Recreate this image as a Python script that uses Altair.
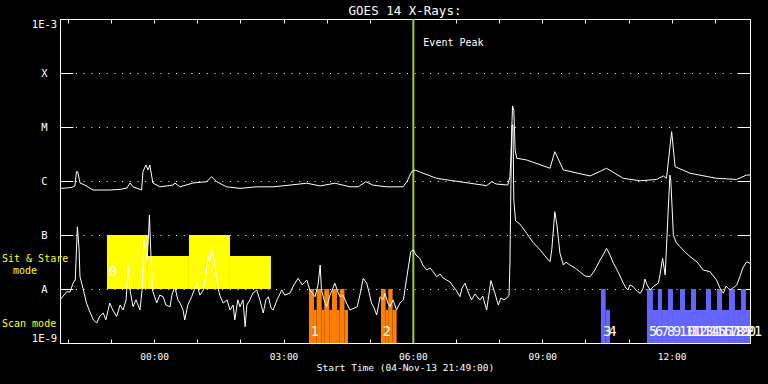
import altair as alt
import pandas as pd

MONO = "DejaVu Sans Mono"

# time axis: hours relative to 05-Nov-13 00:00 (start 04-Nov-13 21:49:00, 16 h span)
t_domain = [-2.1833, 13.8167]
hour_ticks = [-2, -1, 0, 1, 2, 3, 4, 5, 6, 7, 8, 9, 10, 11, 12, 13]
decades = [1e-9, 1e-8, 1e-7, 1e-6, 1e-5, 1e-4, 1e-3]

chart_title = ["GOES 14 X-Rays:"]

# GOES long channel (1-8 A), (hour, W/m2)
long_channel = [
    (-2.18, 7.3e-7), (-2.05, 7.4e-7), (-1.91, 7.6e-7), (-1.84, 8.1e-7), (-1.80, 1.49e-6),
    (-1.77, 1.47e-6), (-1.72, 9.2e-7), (-1.61, 8.4e-7), (-1.42, 6.8e-7), (-1.03, 6.8e-7),
    (-0.79, 7.0e-7), (-0.63, 7.4e-7), (-0.56, 9.2e-7), (-0.49, 7.8e-7), (-0.29, 6.8e-7),
    (-0.26, 1.49e-6), (-0.19, 1.98e-6), (-0.14, 1.60e-6), (-0.10, 1.98e-6), (-0.03, 9.2e-7),
    (0.13, 7.8e-7), (0.44, 8.4e-7), (0.48, 9.2e-7), (0.60, 7.8e-7), (0.90, 9.2e-7),
    (1.22, 9.7e-7), (1.33, 1.20e-6), (1.45, 9.7e-7), (1.68, 7.8e-7), (1.99, 7.3e-7),
    (2.38, 7.8e-7), (2.76, 7.8e-7), (3.15, 8.4e-7), (3.54, 9.1e-7), (3.85, 8.1e-7),
    (4.19, 9.1e-7), (4.54, 7.8e-7), (4.73, 7.8e-7), (4.91, 9.7e-7), (5.07, 8.4e-7),
    (5.39, 7.8e-7), (5.77, 7.8e-7), (5.86, 9.7e-7), (5.97, 1.49e-6), (6.05, 1.60e-6),
    (6.16, 1.47e-6), (6.55, 1.12e-6), (6.93, 1.01e-6), (7.32, 9.1e-7), (7.71, 8.2e-7),
    (7.83, 9.7e-7), (7.93, 8.8e-7), (8.20, 8.4e-7), (8.25, 1.20e-6), (8.27, 2.45e-6),
    (8.31, 2.45e-5), (8.34, 2.06e-5), (8.37, 3.75e-6), (8.41, 2.63e-6), (8.64, 2.45e-6),
    (9.18, 1.72e-6), (9.29, 3.49e-6), (9.49, 1.60e-6), (10.11, 1.24e-6), (10.49, 1.72e-6),
    (10.88, 1.12e-6), (11.27, 1.01e-6), (11.65, 1.07e-6), (11.81, 1.24e-6), (11.88, 1.12e-6),
    (12.00, 8.2e-6), (12.08, 1.84e-6), (12.43, 1.39e-6), (13.04, 1.12e-6), (13.51, 1.07e-6),
    (13.74, 1.29e-6), (13.82, 1.29e-6),
]

# GOES short channel (0.5-4 A), (hour, W/m2)
short_channel = [
    (-2.18, 6.3e-9), (-2.11, 7.4e-9), (-2.03, 8.9e-9), (-1.95, 8.8e-9), (-1.88, 1.28e-8),
    (-1.83, 1.47e-8), (-1.78, 1.42e-7), (-1.74, 5.3e-8), (-1.72, 1.69e-8), (-1.64, 9.6e-9),
    (-1.57, 5.5e-9), (-1.49, 3.75e-9), (-1.41, 2.67e-9), (-1.33, 2.35e-9), (-1.26, 3.16e-9),
    (-1.18, 3.59e-9), (-1.12, 2.67e-9), (-1.03, 5.5e-9), (-0.96, 4.08e-9), (-0.87, 3.1e-9),
    (-0.79, 5.05e-9), (-0.72, 4.08e-9), (-0.65, 6.3e-9), (-0.60, 2.78e-8), (-0.56, 9.6e-9),
    (-0.49, 4.7e-9), (-0.42, 6.3e-9), (-0.33, 4.08e-9), (-0.28, 9.6e-9), (-0.24, 8.1e-8),
    (-0.17, 3.45e-8), (-0.14, 6.5e-8), (-0.11, 2.35e-7), (-0.08, 5.3e-8), (-0.04, 9.6e-9),
    (0.06, 5.5e-9), (0.13, 7.7e-9), (0.21, 7.2e-9), (0.27, 5.05e-9), (0.37, 4.7e-9),
    (0.41, 7.7e-9), (0.48, 1.10e-8), (0.55, 6.3e-9), (0.60, 5.5e-9), (0.67, 4.08e-9),
    (0.71, 2.67e-9), (0.78, 5.05e-9), (0.87, 7.2e-9), (0.99, 1.28e-8), (1.06, 7.7e-9),
    (1.14, 9.6e-9), (1.20, 1.82e-8), (1.25, 3.96e-8), (1.29, 3.16e-8), (1.33, 5.3e-8),
    (1.39, 3.45e-8), (1.49, 9.6e-9), (1.53, 7.4e-9), (1.60, 5.5e-9), (1.69, 6.3e-9),
    (1.76, 4.08e-9), (1.83, 5.05e-9), (1.87, 2.67e-9), (1.94, 6.3e-9), (1.99, 4.7e-9),
    (2.06, 6.3e-9), (2.11, 2.0e-9), (2.15, 5.05e-9), (2.22, 6.3e-9), (2.29, 8.4e-9),
    (2.38, 9.6e-9), (2.45, 6.3e-9), (2.53, 3.59e-9), (2.59, 6.3e-9), (2.65, 7.2e-9),
    (2.71, 4.45e-9), (2.76, 4.08e-9), (2.85, 6.3e-9), (2.96, 9.6e-9), (3.03, 7.7e-9),
    (3.15, 8.4e-9), (3.24, 1.19e-8), (3.34, 1.58e-8), (3.43, 1.19e-8), (3.54, 1.47e-8),
    (3.61, 9.6e-9), (3.73, 7.2e-9), (3.80, 1.19e-8), (3.85, 2.78e-8), (3.88, 9.6e-9),
    (3.94, 6.3e-9), (4.00, 4.7e-9), (4.08, 7.7e-9), (4.19, 1.28e-8), (4.26, 8.8e-9),
    (4.31, 7.2e-9), (4.38, 7.7e-9), (4.46, 5.5e-9), (4.54, 4.08e-9), (4.71, 4.7e-9),
    (4.77, 7.7e-9), (4.85, 1.58e-8), (4.93, 1.28e-8), (4.98, 8.8e-9), (5.04, 5.5e-9),
    (5.10, 4.45e-9), (5.16, 3.3e-9), (5.24, 7.2e-9), (5.31, 6.3e-9), (5.35, 8.4e-9),
    (5.42, 5.5e-9), (5.47, 4.7e-9), (5.54, 6.3e-9), (5.62, 4.08e-9), (5.70, 5.5e-9),
    (5.78, 6.3e-9), (5.86, 1.69e-8), (5.95, 4.9e-8), (6.01, 5.3e-8), (6.07, 4.26e-8),
    (6.16, 3.7e-8), (6.23, 2.78e-8), (6.32, 2.25e-8), (6.40, 2.45e-8), (6.47, 2.09e-8),
    (6.55, 1.69e-8), (6.63, 1.9e-8), (6.70, 1.6e-8), (6.78, 1.47e-8), (6.86, 1.35e-8),
    (6.94, 1.10e-8), (7.00, 9.6e-9), (7.09, 7.2e-9), (7.14, 1.04e-8), (7.21, 1.28e-8),
    (7.28, 8.8e-9), (7.36, 6.3e-9), (7.44, 8.1e-9), (7.51, 6.8e-9), (7.56, 6.3e-9),
    (7.62, 7.4e-9), (7.71, 4.08e-9), (7.76, 7.7e-9), (7.81, 1.43e-8), (7.90, 8.4e-9),
    (7.98, 5.05e-9), (8.04, 6.8e-9), (8.11, 6.3e-9), (8.17, 6.7e-9), (8.23, 7.7e-9),
    (8.25, 3.0e-8), (8.28, 2.45e-6), (8.30, 1.09e-5), (8.32, 1.09e-5), (8.34, 4.45e-7),
    (8.38, 1.82e-7), (8.41, 1.76e-7), (8.48, 1.6e-7), (8.64, 1.07e-7), (8.78, 7.4e-8),
    (8.95, 5.3e-8), (9.06, 4.1e-8), (9.18, 3.2e-8), (9.22, 5.3e-8), (9.29, 2.7e-7),
    (9.34, 1.53e-7), (9.41, 4.58e-8), (9.49, 2.78e-8), (9.55, 3.16e-8), (9.64, 2.78e-8),
    (9.76, 2.45e-8), (9.87, 2.09e-8), (9.99, 1.74e-8), (10.11, 1.69e-8), (10.22, 2.25e-8),
    (10.34, 3.45e-8), (10.41, 4.26e-8), (10.49, 5.66e-8), (10.57, 4.26e-8), (10.65, 3.0e-8),
    (10.76, 2.06e-8), (10.88, 1.28e-8), (10.94, 1.04e-8), (10.99, 9.6e-9), (11.03, 1.19e-8),
    (11.11, 1.10e-8), (11.17, 9.6e-9), (11.27, 8.3e-9), (11.34, 1.04e-8), (11.38, 1.53e-8),
    (11.43, 1.19e-8), (11.50, 9.6e-9), (11.59, 1.13e-8), (11.69, 1.28e-8), (11.73, 1.82e-8),
    (11.79, 3.7e-8), (11.85, 1.82e-8), (11.92, 2.9e-7), (11.96, 1.29e-6), (11.98, 1.04e-6),
    (12.04, 1.0e-7), (12.10, 7.4e-8), (12.19, 6.1e-8), (12.31, 4.84e-8), (12.43, 3.96e-8),
    (12.59, 3.16e-8), (12.73, 2.25e-8), (12.89, 2.09e-8), (13.04, 1.47e-8), (13.12, 1.04e-8),
    (13.20, 8.3e-9), (13.26, 1.13e-8), (13.35, 9.6e-9), (13.42, 1.04e-8), (13.51, 1.19e-8),
    (13.58, 1.67e-8), (13.65, 2.45e-8), (13.74, 3.2e-8), (13.82, 3.0e-8),
]

# Sit & Stare mode blocks: (start hour, end hour, level)
sit_stare = [(-1.094, -0.144, 1.0e-7), (-0.144, 0.807, 4.1e-8),
             (0.807, 1.758, 1.0e-7), (1.758, 2.708, 4.1e-8)]

# Scan mode steps: (start hour, end hour, level, group)
scan_steps = [
    (3.590, 3.705, 1e-8, "a"), (3.705, 3.768, 4.1e-9, "a"), (3.768, 3.884, 1e-8, "a"),
    (3.884, 3.944, 4.1e-9, "a"), (3.944, 4.060, 1e-8, "a"), (4.060, 4.123, 4.1e-9, "a"),
    (4.123, 4.239, 1e-8, "a"), (4.239, 4.301, 4.1e-9, "a"), (4.301, 4.413, 1e-8, "a"),
    (4.413, 4.494, 4.1e-9, "a"),
    (5.259, 5.368, 1e-8, "a"), (5.368, 5.428, 4.1e-9, "a"), (5.428, 5.530, 1e-8, "a"),
    (5.530, 5.623, 4.1e-9, "a"),
    (10.360, 10.470, 1e-8, "b"), (10.470, 10.570, 4.1e-9, "b"),
    (11.427, 11.566, 1e-8, "b"), (11.566, 11.682, 4.1e-9, "b"), (11.682, 11.775, 1e-8, "b"),
    (11.775, 11.914, 4.1e-9, "b"), (11.914, 12.030, 1e-8, "b"), (12.030, 12.193, 4.1e-9, "b"),
    (12.193, 12.309, 1e-8, "b"), (12.309, 12.448, 4.1e-9, "b"), (12.448, 12.564, 1e-8, "b"),
    (12.564, 12.796, 4.1e-9, "b"), (12.796, 12.912, 1e-8, "b"), (12.912, 13.051, 4.1e-9, "b"),
    (13.051, 13.167, 1e-8, "b"), (13.167, 13.329, 4.1e-9, "b"), (13.329, 13.468, 1e-8, "b"),
    (13.468, 13.607, 4.1e-9, "b"), (13.607, 13.723, 1e-8, "b"), (13.723, 13.816, 4.1e-9, "b"),
]

num_text = ["0", "1", "2", "3", "4", "5", "6", "7", "8", "9", "10", "11", "12", "13",
            "14", "15", "16", "17", "18", "19", "20", "21"]
num_t = [-1.07, 3.61, 5.275, 10.39, 10.51, 11.45, 11.59, 11.73, 11.87, 12.01, 12.15,
         12.29, 12.43, 12.57, 12.71, 12.86, 13.00, 13.14, 13.28, 13.42, 13.56, 13.70]
num_flux = [2.1e-8, 1.6e-9, 1.6e-9, 1.6e-9, 1.6e-9, 1.6e-9, 1.6e-9, 1.6e-9, 1.6e-9,
            1.6e-9, 1.6e-9, 1.6e-9, 1.6e-9, 1.6e-9, 1.6e-9, 1.6e-9, 1.6e-9, 1.6e-9,
            1.6e-9, 1.6e-9, 1.6e-9, 1.6e-9]

event_t = [6.01]
event_label_flux = [3.6e-4]

mode_text = ["Sit & Stare", "Scan mode"]
mode_flux = [3.6e-8, 2.25e-9]
mode2_text = ["mode"]
mode2_flux = [2.15e-8]

# ---------------------------------------------------------------------------
df_long = pd.DataFrame(long_channel, columns=["t", "flux"])
df_short = pd.DataFrame(short_channel, columns=["t", "flux"])
df_ss = pd.DataFrame(sit_stare, columns=["t0", "t1", "top"])
df_ss["bottom"] = 1e-8
df_scan = pd.DataFrame(scan_steps, columns=["t0", "t1", "top", "grp"])
df_scan["bottom"] = 1e-9
df_num = pd.DataFrame({"t": num_t, "flux": num_flux, "txt": num_text})
df_event = pd.DataFrame({"t": event_t, "flux": event_label_flux, "txt": ["Event Peak"]})
df_mode = pd.DataFrame({"flux": mode_flux, "txt": mode_text})
df_mode2 = pd.DataFrame({"flux": mode2_flux, "txt": mode2_text})
df_title = pd.DataFrame({"txt": chart_title})

xs = alt.Scale(domain=t_domain, nice=False, zero=False)
ys = alt.Scale(type="log", domain=[1e-9, 1e-3], nice=False)

y_label_expr = ("datum.value > 5e-4 ? '1E-3' : datum.value > 5e-5 ? 'X' : "
                "datum.value > 5e-6 ? 'M' : datum.value > 5e-7 ? 'C' : "
                "datum.value > 5e-8 ? 'B' : datum.value > 5e-9 ? 'A' : '1E-9'")
x_label_expr = ("datum.value % 3 == 0 ? (datum.value < 10 ? '0' : '') + "
                "datum.value + ':00' : ''")

x_bottom = alt.Axis(orient="bottom", values=hour_ticks, offset=-4, tickSize=4,
                    domain=False, grid=False, labelExpr=x_label_expr, labelFlush=False,
                    labelPadding=8, labelFont=MONO, labelFontSize=9.5, labelColor="white",
                    tickColor="white", title="Start Time (04-Nov-13 21:49:00)",
                    titleFont=MONO, titleFontSize=9.5, titleFontWeight="normal",
                    titleColor="white", titleY=23, titleBaseline="top")
x_top = alt.Axis(orient="top", values=hour_ticks, offset=-4, tickSize=4, domain=False,
                 grid=False, labels=False, tickColor="white", title=None)
y_left = alt.Axis(orient="left", values=decades, offset=-13, tickSize=13, domain=False,
                  grid=True, gridDash=[1, 6.7], gridColor="white", gridWidth=1,
                  labelExpr=y_label_expr, labelAlign="center", labelPadding=16,
                  labelFlush=True, labelFont=MONO, labelFontSize=10.5, labelColor="white",
                  tickColor="white", title=None)
y_right = alt.Axis(orient="right", values=decades, offset=-13, tickSize=13, domain=False,
                   grid=False, labels=False, tickColor="white", title=None)

ss_rect = alt.Chart(df_ss).mark_rect(color="#ffff00").encode(
    x=alt.X("t0:Q", scale=xs, axis=None), x2="t1:Q",
    y=alt.Y("top:Q", scale=ys, axis=None), y2="bottom:Q")

scan_rect = alt.Chart(df_scan).mark_rect().encode(
    x=alt.X("t0:Q", scale=xs, axis=None), x2="t1:Q",
    y=alt.Y("top:Q", scale=ys, axis=None), y2="bottom:Q",
    color=alt.Color("grp:N", scale=alt.Scale(domain=["a", "b"], range=["#ff8000", "#6464ff"]),
                    legend=None))

event_rule = alt.Chart(df_event).mark_rule(color="#9acd32", strokeWidth=2).encode(
    x=alt.X("t:Q", scale=xs, axis=None))

event_text = alt.Chart(df_event).mark_text(
    color="white", font=MONO, fontSize=10, align="left", baseline="middle", dx=10).encode(
    x=alt.X("t:Q", scale=xs, axis=None), y=alt.Y("flux:Q", scale=ys, axis=None), text="txt:N")

long_line = alt.Chart(df_long).mark_line(color="white", strokeWidth=1).encode(
    x=alt.X("t:Q", scale=xs, axis=x_bottom), y=alt.Y("flux:Q", scale=ys, axis=y_left))

short_line = alt.Chart(df_short).mark_line(color="white", strokeWidth=1).encode(
    x=alt.X("t:Q", scale=xs, axis=x_top), y=alt.Y("flux:Q", scale=ys, axis=y_right))

num_marks = alt.Chart(df_num).mark_text(
    color="white", font=MONO, fontSize=13.5, align="left", baseline="middle", dx=1).encode(
    x=alt.X("t:Q", scale=xs, axis=None), y=alt.Y("flux:Q", scale=ys, axis=None), text="txt:N")

mode_marks = alt.Chart(df_mode).mark_text(
    color="#ffff00", font=MONO, fontSize=10, align="left", baseline="middle").encode(
    x=alt.value(-58), y=alt.Y("flux:Q", scale=ys, axis=None), text="txt:N")

mode2_marks = alt.Chart(df_mode2).mark_text(
    color="#ffff00", font=MONO, fontSize=10, align="left", baseline="middle").encode(
    x=alt.value(-47), y=alt.Y("flux:Q", scale=ys, axis=None), text="txt:N")

title_mark = alt.Chart(df_title).mark_text(
    color="white", font=MONO, fontSize=12.5, align="center", baseline="alphabetic").encode(
    x=alt.value(345), y=alt.value(-4), text="txt:N")

chart = alt.layer(
    ss_rect, scan_rect, event_rule, event_text, long_line, short_line,
    num_marks, mode_marks, mode2_marks, title_mark,
).resolve_axis(x="independent", y="independent").properties(
    width=690, height=324,
    padding={"left": 60, "top": 19, "right": 18, "bottom": 41},
    autosize=alt.AutoSizeParams(type="none"),
    background="black",
).configure_view(stroke="white", strokeWidth=1)

chart.save("out.html", embed_options={"renderer": "svg", "actions": False})
